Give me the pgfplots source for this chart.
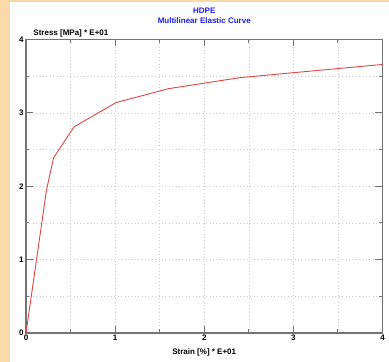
\documentclass[border=0pt]{standalone}
\usepackage{pgfplots}
\pgfplotsset{compat=1.18}
\usepackage{fontspec}
\setmainfont{Liberation Sans}
\definecolor{bgor}{RGB}{249,217,168}
\definecolor{curvered}{RGB}{222,70,70}
\definecolor{axgray}{RGB}{115,115,115}
\definecolor{titleblue}{RGB}{30,30,230}
\begin{document}
\begin{tikzpicture}
\path[use as bounding box] (0,0) rectangle (389pt,362pt);
\fill[white] (0,0) rectangle (389pt,362pt);
\fill[bgor] (0,0) rectangle (10pt,362pt);
\fill[bgor] (0,360pt) rectangle (389pt,362pt);
\begin{axis}[
  at={(26pt,29pt)}, anchor=south west,
  scale only axis, width=356.5pt, height=293.5pt,
  xmin=0, xmax=4, ymin=0, ymax=4,
  xtick={0,1,2,3,4}, ytick={0,1,2,3,4},
  minor xtick={0.5,1.5,2.5,3.5}, minor ytick={0.5,1.5,2.5,3.5},
  grid=both,
  major grid style={dash pattern=on 0.8pt off 2.6pt, gray!40, line width=0.6pt},
  minor grid style={dash pattern=on 0.8pt off 2.6pt, gray!40, line width=0.6pt},
  axis line style={axgray, line width=1.2pt},
  major tick length=7pt, minor tick length=3.5pt,
  tick style={axgray, line width=1pt},
  tick label style={font=\fontsize{8}{9}\selectfont\bfseries},
  /pgf/number format/assume math mode=true,
  xticklabel style={yshift=2pt},
  yticklabel style={xshift=1pt},
  clip=false,
]
\addplot[curvered, line width=0.9pt] coordinates {
 (0,0) (0.23,1.95) (0.31,2.39) (0.54,2.81) (1.01,3.14) (1.6,3.33) (2.4,3.48) (4.0,3.66)
};
\node[anchor=base west, font=\fontsize{8}{9}\selectfont\bfseries] at (rel axis cs:0.011,1) [yshift=4pt] {Stress [MPa] * E+01};
\node[anchor=base, font=\fontsize{8}{9}\selectfont\bfseries] at (rel axis cs:0.5,0) [yshift=-22pt] {Strain [\%] * E+01};
\node[align=center, text=titleblue, font=\fontsize{8}{10}\selectfont\bfseries] at (rel axis cs:0.5,1) [yshift=24pt] {HDPE\\Multilinear Elastic Curve};
\end{axis}
\end{tikzpicture}
\end{document}
